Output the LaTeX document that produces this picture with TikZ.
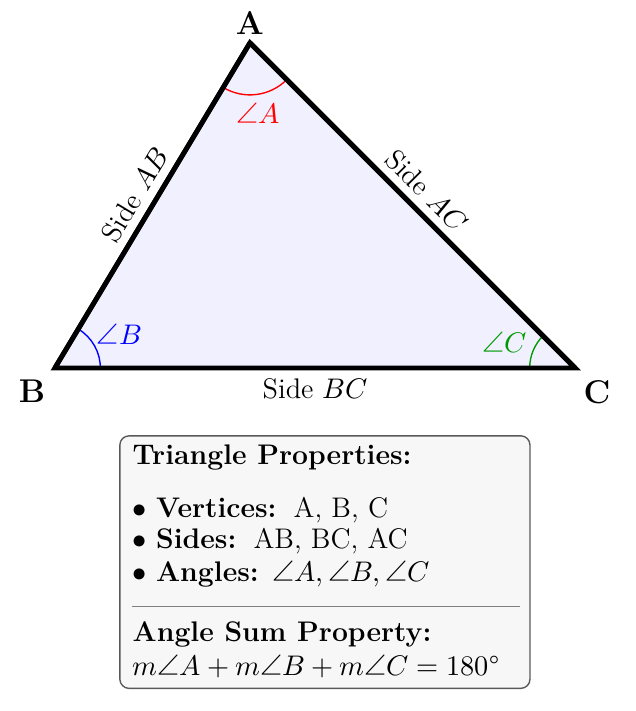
\documentclass[tikz,border=0pt]{standalone}
\usepackage{unicode-math}
\usetikzlibrary{calc}
\newcommand{\txtsize}{\fontsize{12.4}{15}\selectfont}
\begin{document}
\begin{tikzpicture}[
  every node/.style={font=\txtsize},
  vlabel/.style={font=\Large\bfseries},
  edge/.style={line width=2.1pt, line join=miter},
  anglearc/.style={semithick},
  sidelabel/.style={midway, sloped, font=\txtsize},
  infobox/.style={draw=black!65, fill=gray!6, rounded corners=4pt, line width=0.6pt},
  infoline/.style={anchor=base west, inner sep=0pt, font=\txtsize}
]
\useasboundingbox (-0.843,-5.272) rectangle (8.920,5.659);

\coordinate (A) at (3,5);
\coordinate (B) at (0,0);
\coordinate (C) at (8,0);

% triangle
\fill[blue!6] (A) -- (B) -- (C) -- cycle;

% angle arcs
\draw[anglearc, red] ($(A)+({180+59.04}:0.8)$) arc[start angle={180+59.04}, end angle=315, radius=0.8];
\draw[anglearc, blue] ($(B)+(0:0.7)$) arc[start angle=0, end angle=59.04, radius=0.7];
\draw[anglearc, green!60!black] ($(C)+(135:0.7)$) arc[start angle=135, end angle=180, radius=0.7];

\draw[edge] (A) -- node[sidelabel, above] (sab) {Side $AB$} (B);
\draw[edge] (B) -- node[sidelabel, below] (sbc) {Side $BC$} (C);
\draw[edge] (A) -- node[sidelabel, above] (sac) {Side $AC$} (C);
\draw[edge] (A) -- (B) -- (C) -- cycle;

% vertex labels
\node[vlabel] (lA) at (3,5.30) {A};
\node[vlabel] (lB) at (-0.352,-0.36) {B};
\node[vlabel] (lC) at (8.337,-0.375) {C};

% angle labels
\node[red] (aA) at (3.126,3.92) {$\angle A$};
\node[blue] (aB) at (0.988,0.52) {$\angle B$};
\node[green!60!black] (aC) at (6.92,0.39) {$\angle C$};

% info box
\path[infobox] (1.0,-1.042) rectangle (7.305,-4.924);
\node[infoline] (t1) at (1.19,-1.49) {\textbf{Triangle Properties:}};
\node[infoline] (t2) at (1.19,-2.29) {$\bullet$ \textbf{Vertices:}\hspace{7.5pt}A, B, C};
\node[infoline] (t3) at (1.19,-2.77) {$\bullet$ \textbf{Sides:}\hspace{7.5pt}AB, BC, AC};
\node[infoline] (t4) at (1.19,-3.28) {$\bullet$ \textbf{Angles:}\hspace{6pt}$\angle A, \angle B, \angle C$};
\coordinate (r1) at (1.18,-3.67);
\coordinate (r2) at (7.157,-3.67);
\draw[gray, line width=0.5pt] (r1) -- (r2);
\node[infoline] (t5) at (1.19,-4.21) {\textbf{Angle Sum Property:}};
\node[infoline] (t6) at (1.19,-4.72) {$m\angle A + m\angle B + m\angle C = 180$\mbox{°}};
\end{tikzpicture}
\end{document}
